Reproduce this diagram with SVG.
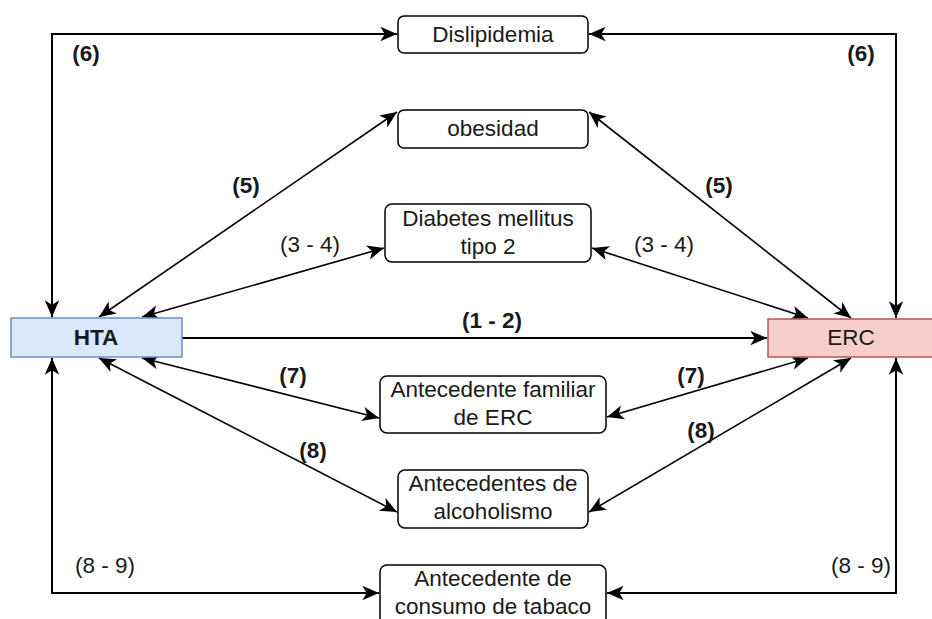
<svg xmlns="http://www.w3.org/2000/svg" width="932" height="619" viewBox="0 0 932 619">
  <style>
    .box { fill: #ffffff; stroke: #000000; stroke-width: 1.5; }
    .t { font-family: "Liberation Sans", Arial, sans-serif; font-size: 22.5px; fill: #1a1a1a; text-anchor: middle; }
    .b { font-weight: bold; }
    .ln { fill: none; stroke: #000000; stroke-width: 1.6; }
    .ln2 { fill: none; stroke: #000000; stroke-width: 2; }
  </style>
  <defs>
    <marker id="arr" markerUnits="userSpaceOnUse" markerWidth="20" markerHeight="20" viewBox="-16 -8 18 16" refX="0" refY="0" orient="auto-start-reverse">
      <path d="M0,0 L-15,-6.5 L-11,0 L-15,6.5 Z" fill="#000000"/>
    </marker>
  </defs>

  <g id="connectors">
    <path class="ln2" d="M52,317 L52,34 L397,34" marker-start="url(#arr)" marker-end="url(#arr)"/>
    <path class="ln2" d="M896,318 L896,34 L589,34" marker-start="url(#arr)" marker-end="url(#arr)"/>
    <path class="ln2" d="M182,338 L767,338" marker-end="url(#arr)"/>
    <path class="ln2" d="M52,358 L52,593 L379,593" marker-start="url(#arr)" marker-end="url(#arr)"/>
    <path class="ln2" d="M896,358 L896,593 L607,593" marker-start="url(#arr)" marker-end="url(#arr)"/>
    <path class="ln" d="M99,317 L397,112" marker-start="url(#arr)" marker-end="url(#arr)"/>
    <path class="ln" d="M142,317 L384,248" marker-start="url(#arr)" marker-end="url(#arr)"/>
    <path class="ln" d="M142,358 L379,418" marker-start="url(#arr)" marker-end="url(#arr)"/>
    <path class="ln" d="M99,358 L397,512" marker-start="url(#arr)" marker-end="url(#arr)"/>
    <path class="ln" d="M851,318 L589,112" marker-start="url(#arr)" marker-end="url(#arr)"/>
    <path class="ln" d="M808,318 L592,248" marker-start="url(#arr)" marker-end="url(#arr)"/>
    <path class="ln" d="M808,358 L607,417" marker-start="url(#arr)" marker-end="url(#arr)"/>
    <path class="ln" d="M851,358 L589,512" marker-start="url(#arr)" marker-end="url(#arr)"/>
  </g>

  <g id="labels">
    <text class="t b" x="86" y="61">(6)</text>
    <text class="t b" x="861" y="61">(6)</text>
    <text class="t b" x="246" y="193">(5)</text>
    <text class="t b" x="719" y="193">(5)</text>
    <text class="t" x="310" y="252">(3 - 4)</text>
    <text class="t" x="664" y="252">(3 - 4)</text>
    <text class="t b" x="492" y="328">(1 - 2)</text>
    <text class="t b" x="293" y="383">(7)</text>
    <text class="t b" x="691" y="383">(7)</text>
    <text class="t b" x="313" y="458">(8)</text>
    <text class="t b" x="701" y="438">(8)</text>
    <text class="t" x="105" y="573">(8 - 9)</text>
    <text class="t" x="861" y="573">(8 - 9)</text>
  </g>

  <g id="dislipidemia">
    <rect class="box" x="398" y="16" width="190" height="37" rx="6"/>
    <text class="t" x="493" y="42">Dislipidemia</text>
  </g>
  <g id="obesidad">
    <rect class="box" x="398" y="110" width="190" height="38" rx="6"/>
    <text class="t" x="493" y="136">obesidad</text>
  </g>
  <g id="diabetes">
    <rect class="box" x="385" y="204" width="206" height="58" rx="7"/>
    <text class="t" x="488" y="226">Diabetes mellitus</text>
    <text class="t" x="488" y="254">tipo 2</text>
  </g>
  <g id="hta">
    <rect x="11" y="318" width="171" height="39" fill="#dae8fc" stroke="#6c8ebf" stroke-width="1.5"/>
    <text class="t b" x="96" y="345">HTA</text>
  </g>
  <g id="erc">
    <rect x="768" y="319" width="166" height="38" fill="#f8cecc" stroke="#b85450" stroke-width="1.5"/>
    <text class="t" x="851" y="345">ERC</text>
  </g>
  <g id="familiar">
    <rect class="box" x="380" y="376" width="226" height="57" rx="7"/>
    <text class="t" x="493" y="397">Antecedente familiar</text>
    <text class="t" x="493" y="425">de ERC</text>
  </g>
  <g id="alcoholismo">
    <rect class="box" x="398" y="470" width="190" height="58" rx="7"/>
    <text class="t" x="493" y="491">Antecedentes de</text>
    <text class="t" x="493" y="519">alcoholismo</text>
  </g>
  <g id="tabaco">
    <rect class="box" x="380" y="565" width="226" height="60" rx="7"/>
    <text class="t" x="493" y="586">Antecedente de</text>
    <text class="t" x="493" y="614">consumo de tabaco</text>
  </g>
</svg>
